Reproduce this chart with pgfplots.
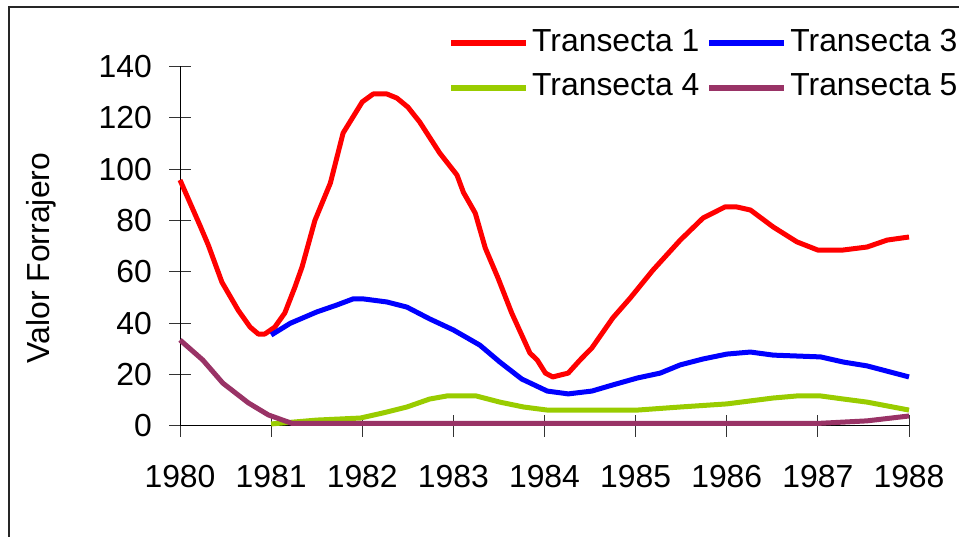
\documentclass[border=0pt]{standalone}
\usepackage{pgfplots}
\pgfplotsset{compat=1.18}
\usepackage{fontspec}
\setmainfont{Liberation Sans}
\definecolor{tone}{RGB}{255,0,0}
\definecolor{tthree}{RGB}{0,0,255}
\definecolor{tfour}{RGB}{153,204,0}
\definecolor{tfive}{RGB}{153,51,102}
\begin{document}
\fontsize{32}{38}\selectfont
\begin{tikzpicture}[x=1bp,y=1bp]
\useasboundingbox (0,0) rectangle (959,537);
\draw[line width=1.2bp, black!85] (9,-5) -- (9,530) -- (975,530);
\begin{axis}[
  at={(180bp,111bp)}, anchor=south west, scale only axis,
  width=729bp, height=359.5bp,
  xmin=1980, xmax=1988, ymin=0, ymax=140,
  axis lines*=left,
  clip=false,
  xtick={1980,1981,...,1988}, ytick={0,20,...,140},
  tick align=center, major tick length=22bp,
  axis line style={black, line width=1bp},
  tick style={black!80, line width=1bp},
  /pgf/number format/assume math mode=true,
  /pgf/number format/set thousands separator={},
  tick label style={font=\fontsize{32}{38}\selectfont, inner sep=0pt},
  yticklabel style={anchor=east, xshift=-17bp},
  xticklabel style={anchor=north, yshift=-28bp},
  legend columns=2,
  legend style={draw=none, fill=none, at={(0.3676,1.105)}, anchor=north west,
    font=\fontsize{32}{38}\selectfont, inner sep=0pt, row sep=18bp,
    nodes={inner sep=0pt},
    /tikz/every even column/.append style={column sep=7bp},
    /tikz/every odd column/.append style={column sep=3bp}},
  legend image code/.code={\draw[#1, line width=6bp] (0bp,-1bp) -- (75bp,-1bp);},
  every axis plot/.append style={line width=5bp, line join=round},
]
\addplot[tone] coordinates {
(1980.00,95.8) (1980.22,78.0) (1980.31,70.5) (1980.46,56.0) (1980.64,45.0)
(1980.77,38.5) (1980.86,35.8) (1980.93,35.8) (1981.04,38.5) (1981.15,44.0)
(1981.26,54.0) (1981.34,62.0) (1981.48,80.0) (1981.65,94.6) (1981.79,114.1)
(1982.00,126.2) (1982.12,129.3) (1982.27,129.3) (1982.38,127.7) (1982.50,124.2)
(1982.63,118.4) (1982.85,106.3) (1983.04,97.7) (1983.11,91.0) (1983.24,82.9)
(1983.35,69.3) (1983.49,57.6) (1983.64,44.0) (1983.79,32.3) (1983.84,28.4)
(1983.92,25.7) (1984.01,20.6) (1984.09,19.1) (1984.26,20.6) (1984.39,25.7)
(1984.52,30.4) (1984.75,42.1) (1984.94,49.8) (1985.19,60.7) (1985.49,72.4)
(1985.74,81.0) (1985.98,85.3) (1986.11,85.3) (1986.26,84.1) (1986.51,77.5)
(1986.77,71.7) (1987.00,68.5) (1987.27,68.5) (1987.54,69.7) (1987.76,72.4)
(1988.00,73.6)};
\addlegendentry{Transecta 1}
\addplot[tthree] coordinates {
(1981.00,35.4) (1981.21,40.0) (1981.50,44.4) (1981.72,47.1) (1981.90,49.5)
(1982.01,49.5) (1982.27,48.3) (1982.49,46.3) (1982.74,41.7) (1983.00,37.4)
(1983.29,31.5) (1983.51,24.9) (1983.75,18.3) (1984.03,13.6) (1984.26,12.5)
(1984.52,13.6) (1984.75,16.0) (1985.02,18.7) (1985.27,20.6) (1985.49,23.8)
(1985.74,26.1) (1986.00,28.0) (1986.26,28.8) (1986.51,27.6) (1987.03,26.9)
(1987.28,24.9) (1987.54,23.4) (1988.00,19.1)};
\addlegendentry{Transecta 3}
\addplot[tfour] coordinates {
(1981.00,0.8) (1981.27,1.6) (1981.50,2.3) (1981.98,3.1) (1982.23,5.1)
(1982.49,7.4) (1982.74,10.5) (1982.93,11.7) (1983.25,11.7) (1983.51,9.3)
(1983.77,7.4) (1984.03,6.2) (1985.02,6.2) (1985.49,7.4) (1986.00,8.6)
(1986.51,10.9) (1986.77,11.7) (1987.03,11.7) (1987.28,10.5) (1987.54,9.3)
(1988.00,6.2)};
\addlegendentry{Transecta 4}
\addplot[tfive] coordinates {
(1980.00,33.5) (1980.25,25.7) (1980.47,16.7) (1980.75,9.0) (1980.97,4.3)
(1981.23,1.0) (1982.00,1.0) (1983.00,1.0) (1984.00,1.0) (1985.00,1.0)
(1986.00,1.0) (1987.00,1.0) (1987.54,2.0) (1988.00,3.9)};
\addlegendentry{Transecta 5}
\end{axis}
\node[rotate=90] at (41,279) {Valor Forrajero};
\end{tikzpicture}
\end{document}
